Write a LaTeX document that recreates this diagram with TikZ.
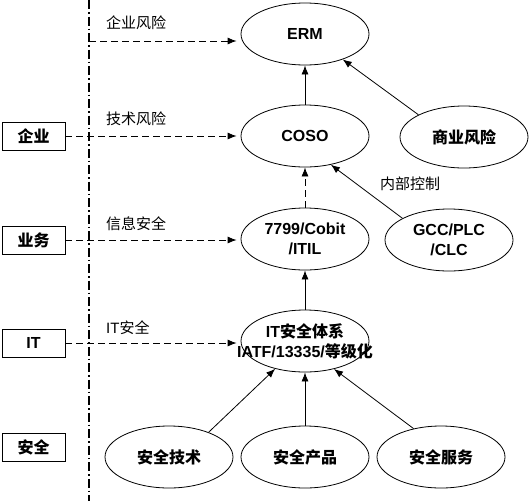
\documentclass[tikz,border=0pt]{standalone}
\usepackage{fontspec}
\setmainfont{Liberation Sans}
\newfontfamily\cjk{Noto Sans CJK SC}
\usetikzlibrary{shapes.geometric,arrows.meta,calc}
\begin{document}
\begin{tikzpicture}[x=1pt,y=-1pt,
  font=\fontsize{16}{20}\selectfont,
  ell/.style={draw,ellipse,line width=0.8pt,minimum width=128pt,minimum height=62pt,inner sep=0pt,align=center,font=\fontsize{16}{20}\selectfont\bfseries},
  lbox/.style={draw,line width=0.8pt,minimum width=63pt,minimum height=28pt,inner sep=0pt,font=\fontsize{16}{20}\selectfont\bfseries},
  lab/.style={anchor=west,inner sep=0pt,font=\fontsize{15}{18}\selectfont},
  arr/.style={line width=0.8pt,-{Latex[length=9pt,width=7pt]}},
  darr/.style={arr,dash pattern=on 7pt off 4pt}
]
\useasboundingbox (0,0) rectangle (530,501);
% divider
\draw[line width=1.6pt,dash pattern=on 9pt off 3pt on 1.5pt off 3pt] (89,0) -- (89,501);
% ellipses
\node[ell] (erm) at (305,34) {ERM};
\node[ell] (coso) at (305,136) {COSO};
\node[ell] (biz) at (464,137) {\cjk 商业风险};
\node[ell] (cobit) at (305,239) {7799/Cobit\\/ITIL};
\node[ell] (gcc) at (449,240) {GCC/PLC\\/CLC};
\node[ell] (itsys) at (305,341) {};
\node[align=center,inner sep=0pt,font=\fontsize{16}{20}\selectfont\bfseries] (itsyst) at (itsys.center) {IT{\cjk 安全体系}\\IATF/13335/{\cjk 等级化}};
\node[ell] (tech) at (169,457) {\cjk 安全技术};
\node[ell] (prod) at (305,457) {\cjk 安全产品};
\node[ell] (serv) at (441,457) {\cjk 安全服务};
% left boxes
\node[lbox] (qy) at (33.5,136) {\cjk 企业};
\node[lbox] (yw) at (33.5,240) {\cjk 业务};
\node[lbox] (it) at (33.5,343) {IT};
\node[lbox] (aq) at (33.5,447) {\cjk 安全};
% dashed horizontal arrows
\coordinate (r1) at (89,41);
\draw[darr] (r1) -- ([xshift=-4pt]r1 -| erm.west);
\draw[darr] (qy.east) -- ([xshift=-4pt]qy.east -| coso.west);
\draw[darr] (yw.east) -- ([xshift=-4pt]yw.east -| cobit.west);
\draw[darr] (it.east) -- ([xshift=-4pt]it.east -| itsys.west);
% labels
\node[lab] (l1) at (106,23) {\cjk 企业风险};
\node[lab] (l2) at (106,119) {\cjk 技术风险};
\node[lab] (l3) at (106,224) {\cjk 信息安全};
\node[lab] (l4) at (106,328) {IT{\cjk 安全}};
\node[lab] (l5) at (380,184) {\cjk 内部控制};
% vertical / diagonal arrows
\draw[arr] (coso.north) -- (erm.south);
\draw[arr] (biz.154) -- (erm.-34);
\draw[darr] (cobit.north) -- (coso.south);
\draw[arr] (gcc.155) -- (coso.-48);
\draw[arr] (itsys.north) -- (cobit.south);
\draw[arr] (prod.north) -- (itsys.south);
\draw[arr] (tech.32) -- (itsys.-137);
\draw[arr] (serv.134) -- (itsys.-44);
\end{tikzpicture}
\end{document}
